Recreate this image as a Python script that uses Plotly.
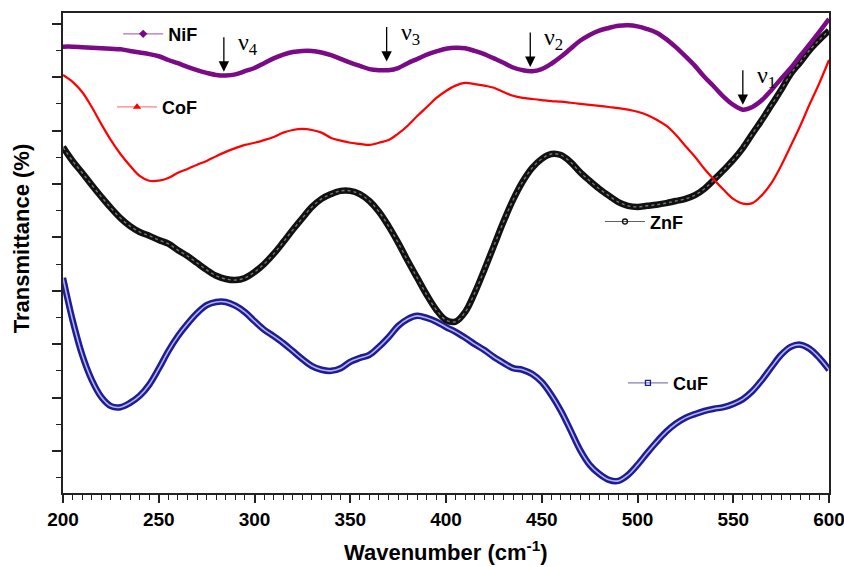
import plotly.graph_objects as go

# Wavenumber grid (cm^-1)
wavenumber = list(range(200, 601, 5))

# Transmittance (arbitrary units) for each ferrite sample
nif = [75.7, 75.7, 75.6, 75.5, 75.4, 75.3, 75.2, 74.9, 74.6, 74.3,
       73.9, 73.2, 72.6, 71.9, 71.3, 70.8, 70.4, 70.3, 70.5, 71.1,
       71.7, 72.6, 73.5, 74.2, 74.7, 74.9, 74.9, 74.6, 74.1, 73.4,
       72.7, 72.1, 71.5, 71.3, 71.3, 71.7, 72.6, 73.4, 74.2, 74.8,
       75.3, 75.5, 75.4, 74.9, 74.3, 73.5, 72.7, 71.8, 71.3, 71.1,
       71.5, 72.5, 73.8, 75.3, 76.8, 77.9, 78.7, 79.2, 79.6, 79.7,
       79.5, 79.0, 78.3, 77.1, 75.6, 73.9, 72.1, 70.0, 68.2, 66.3,
       64.8, 63.9, 64.4, 65.7, 67.6, 69.7, 71.7, 74.0, 76.2, 78.5,
       80.9]

cof = [70.4, 69.1, 67.2, 64.4, 61.2, 58.2, 55.6, 53.4, 51.5, 50.6,
       50.6, 51.1, 52.1, 52.8, 53.6, 54.3, 55.2, 56.0, 56.7, 57.3,
       57.7, 58.2, 58.8, 59.6, 60.1, 60.3, 60.1, 59.6, 58.6, 58.1,
       57.7, 57.5, 57.3, 57.7, 58.2, 59.4, 60.9, 62.7, 64.4, 66.1,
       67.4, 68.4, 68.9, 68.7, 68.4, 68.0, 67.2, 66.5, 66.1, 65.9,
       65.7, 65.5, 65.4, 65.2, 65.0, 64.8, 64.6, 64.4, 64.2, 63.9,
       63.5, 62.9, 62.0, 60.9, 59.2, 57.1, 55.1, 52.8, 50.8, 48.9,
       47.2, 46.3, 46.4, 47.9, 50.2, 53.4, 57.1, 60.9, 65.0, 68.9,
       73.2]

znf = [56.9, 54.3, 52.1, 49.8, 47.6, 45.5, 43.6, 42.1, 41.0, 40.3,
       39.5, 38.8, 37.6, 36.5, 35.2, 33.9, 32.8, 32.2, 32.0, 32.4,
       33.5, 35.0, 36.9, 39.1, 41.4, 43.6, 45.7, 47.2, 48.1, 48.7,
       48.7, 48.1, 46.8, 44.8, 42.1, 39.0, 35.6, 32.4, 29.2, 26.4,
       24.5, 24.2, 26.0, 29.6, 33.9, 38.4, 42.9, 47.0, 50.4, 53.0,
       54.7, 55.6, 55.4, 54.1, 52.2, 50.6, 49.1, 47.8, 46.6, 45.9,
       45.7, 45.9, 46.1, 46.4, 46.8, 47.2, 47.9, 49.1, 50.8, 52.6,
       54.5, 56.7, 59.4, 62.0, 64.8, 67.6, 70.6, 72.8, 75.1, 77.0,
       78.7]

cuf = [32.4, 24.5, 18.0, 13.3, 10.1, 8.4, 8.2, 9.0, 10.3, 12.4,
       15.4, 18.7, 21.5, 23.8, 25.8, 27.3, 27.9, 27.9, 27.2, 26.0,
       24.3, 22.7, 21.5, 20.2, 18.7, 17.2, 15.9, 15.2, 15.0, 15.5,
       16.7, 17.4, 18.0, 19.5, 21.3, 23.4, 24.7, 25.3, 24.9, 24.2,
       23.2, 22.3, 21.2, 20.0, 18.9, 17.6, 16.5, 15.5, 15.2, 14.4,
       12.9, 10.5, 7.5, 3.9, 0.2, -2.6, -4.3, -5.4, -5.6, -4.5,
       -2.6, -0.4, 1.7, 3.6, 5.1, 6.2, 6.9, 7.5, 7.9, 8.2,
       8.8, 9.7, 11.2, 13.3, 15.7, 18.0, 19.5, 19.9, 19.1, 17.4,
       15.2]

# Band assignments: (label, wavenumber, transmittance at arrow tip)
bands = [("ν<sub>4</sub>", 284, 71.0),
         ("ν<sub>3</sub>", 369, 72.9),
         ("ν<sub>2</sub>", 444, 71.9),
         ("ν<sub>1</sub>", 555, 64.8)]

SANS = "Liberation Sans, Arial, sans-serif"
SERIF = "Liberation Serif, Times New Roman, serif"

fig = go.Figure()

# spectra
fig.add_trace(go.Scatter(x=wavenumber, y=cuf, mode="lines", showlegend=False,
                         line=dict(color="#1c1c96", width=6.5, shape="spline")))
fig.add_trace(go.Scatter(x=wavenumber, y=cuf, mode="lines", showlegend=False,
                         line=dict(color="#b4b4e6", width=1.6, shape="spline")))
fig.add_trace(go.Scatter(x=wavenumber, y=znf, mode="lines", showlegend=False,
                         line=dict(color="#111111", width=6.5, shape="spline")))
fig.add_trace(go.Scatter(x=wavenumber, y=znf, mode="lines", showlegend=False,
                         line=dict(color="#777777", width=1.4, shape="spline", dash="dot")))
fig.add_trace(go.Scatter(x=wavenumber, y=cof, mode="lines", showlegend=False,
                         line=dict(color="#ff0000", width=2.2, shape="spline")))
fig.add_trace(go.Scatter(x=wavenumber, y=nif, mode="lines", showlegend=False,
                         line=dict(color="#7a0a86", width=4.5, shape="spline")))

# legend keys, one legend box per sample
keys = [
    ("NiF", "legend", "#b070c0", "#7a0a86", "diamond", 5),
    ("CoF", "legend2", "#ff8080", "#ff0000", "triangle-up", 5),
    ("ZnF", "legend3", "#606060", "#111111", "circle-open", 5),
    ("CuF", "legend4", "#8080b0", "#1c1c96", "square-open", 5),
]
for name, leg, lcol, mcol, sym, size in keys:
    fig.add_trace(go.Scatter(x=[None], y=[None], mode="lines+markers", name=name,
                             legend=leg,
                             line=dict(color=lcol, width=1.2),
                             marker=dict(color=mcol, symbol=sym, size=size,
                                         line=dict(color=mcol, width=1.3))))

legend_font = dict(family=SANS, size=18, color="black", weight="bold")
def legend_box(x, y):
    return dict(x=x, y=y, xanchor="left", yanchor="middle", font=legend_font,
                bgcolor="rgba(0,0,0,0)", borderwidth=0, itemwidth=40)

annotations = []
for label, wn, t in bands:
    annotations.append(dict(x=wn, y=t, xref="x", yref="y", text="", showarrow=True,
                            ax=0, ay=-36, arrowhead=2, arrowsize=1.6, arrowwidth=1.3,
                            arrowcolor="black"))
    annotations.append(dict(x=wn, y=t, xref="x", yref="y", text=label, showarrow=False,
                            xanchor="left", yanchor="middle", xshift=12, yshift=28,
                            font=dict(family=SERIF, size=24, color="black")))

annotations.append(dict(text="Transmittance (%)", xref="paper", yref="paper",
                        x=-0.054, y=0.53, textangle=-90, showarrow=False,
                        xanchor="center", yanchor="middle",
                        font=dict(family=SANS, size=22, color="black", weight="bold")))
annotations.append(dict(text="Wavenumber (cm<sup>-1</sup>)", xref="paper", yref="paper",
                        x=0.5, y=-0.121, showarrow=False,
                        xanchor="center", yanchor="middle",
                        font=dict(family=SANS, size=22, color="black", weight="bold")))

fig.update_layout(
    width=844, height=567,
    margin=dict(l=63, r=15, t=13, b=74, autoexpand=False),
    paper_bgcolor="white", plot_bgcolor="white",
    legend=legend_box(0.072, 0.956),
    legend2=legend_box(0.064, 0.804),
    legend3=legend_box(0.701, 0.565),
    legend4=legend_box(0.731, 0.229),
    annotations=annotations,
    xaxis=dict(range=[200, 600], tick0=200, dtick=50, ticks="outside", ticklen=8,
               tickwidth=1.5, tickcolor="#222", showline=True, linewidth=2,
               linecolor="#222", mirror=True, showgrid=False, zeroline=False,
               ticklabeloverflow="allow", automargin=False,
               tickfont=dict(family=SANS, size=19, color="black", weight="bold"),
               minor=dict(dtick=5, ticks="outside", ticklen=5, tickwidth=1.3,
                          tickcolor="#222", showgrid=False)),
    yaxis=dict(range=[-7.87, 82.0], tick0=0, dtick=10, ticks="outside", ticklen=9,
               tickwidth=1.5, tickcolor="#222", showline=True, linewidth=2,
               linecolor="#222", mirror=True, showgrid=False, zeroline=False,
               showticklabels=False, automargin=False,
               minor=dict(dtick=5, ticks="outside", ticklen=5, tickwidth=1.3,
                          tickcolor="#222", showgrid=False)),
)

fig.write_html("out.html")
